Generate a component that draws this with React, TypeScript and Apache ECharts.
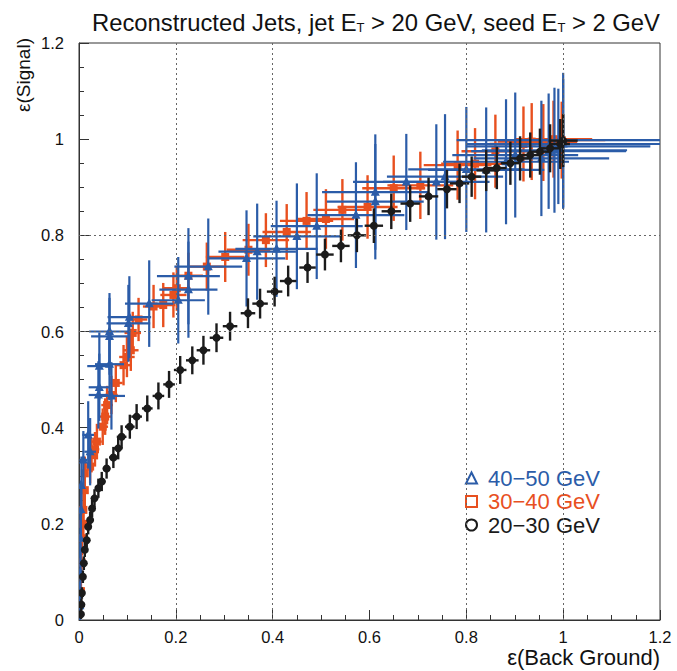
import React, { useEffect, useRef } from "react";
import * as echarts from "echarts";

// ---- Data: [x, y, xErr, yErr] ----
const JET_20_30: number[][] = [
  [0.004, 0.012, 0.002, 0.01], [0.005, 0.032, 0.002, 0.012], [0.006, 0.056, 0.003, 0.012],
  [0.008, 0.09, 0.003, 0.013], [0.010, 0.118, 0.004, 0.014], [0.012, 0.146, 0.004, 0.015],
  [0.016, 0.166, 0.005, 0.015], [0.019, 0.194, 0.005, 0.016], [0.023, 0.208, 0.006, 0.017],
  [0.027, 0.232, 0.006, 0.018], [0.032, 0.253, 0.007, 0.019], [0.040, 0.274, 0.007, 0.02],
  [0.047, 0.288, 0.008, 0.02], [0.057, 0.315, 0.008, 0.021], [0.071, 0.338, 0.009, 0.022],
  [0.081, 0.357, 0.009, 0.023], [0.088, 0.381, 0.010, 0.024], [0.105, 0.402, 0.010, 0.025],
  [0.119, 0.423, 0.011, 0.026], [0.141, 0.44, 0.011, 0.027], [0.164, 0.466, 0.012, 0.028],
  [0.186, 0.49, 0.012, 0.028], [0.209, 0.52, 0.013, 0.029], [0.234, 0.54, 0.013, 0.029],
  [0.257, 0.561, 0.014, 0.03], [0.284, 0.587, 0.014, 0.03], [0.312, 0.611, 0.015, 0.03],
  [0.349, 0.638, 0.015, 0.031], [0.374, 0.658, 0.016, 0.031], [0.404, 0.683, 0.016, 0.031],
  [0.432, 0.705, 0.017, 0.032], [0.472, 0.733, 0.017, 0.032], [0.508, 0.76, 0.018, 0.033],
  [0.541, 0.778, 0.018, 0.034], [0.574, 0.80, 0.019, 0.035], [0.609, 0.82, 0.019, 0.036],
  [0.645, 0.85, 0.02, 0.037], [0.684, 0.866, 0.02, 0.038], [0.722, 0.881, 0.02, 0.039],
  [0.76, 0.896, 0.02, 0.04], [0.786, 0.908, 0.02, 0.041], [0.811, 0.922, 0.02, 0.042],
  [0.841, 0.935, 0.02, 0.043], [0.863, 0.94, 0.02, 0.044], [0.891, 0.95, 0.02, 0.045],
  [0.911, 0.96, 0.02, 0.046], [0.932, 0.967, 0.02, 0.047], [0.952, 0.974, 0.02, 0.048],
  [0.973, 0.981, 0.02, 0.05], [0.994, 0.99, 0.02, 0.052], [1.0, 0.997, 0.03, 0.055],
];

const JET_30_40: number[][] = [
  [0.004, 0.06, 0.003, 0.03], [0.005, 0.12, 0.003, 0.035], [0.006, 0.17, 0.004, 0.035],
  [0.009, 0.2, 0.005, 0.035], [0.009, 0.229, 0.005, 0.035], [0.012, 0.27, 0.006, 0.035],
  [0.012, 0.305, 0.006, 0.035], [0.023, 0.319, 0.008, 0.035], [0.026, 0.343, 0.008, 0.036],
  [0.033, 0.355, 0.009, 0.036], [0.037, 0.371, 0.01, 0.037], [0.049, 0.402, 0.011, 0.038],
  [0.054, 0.423, 0.012, 0.038], [0.058, 0.447, 0.012, 0.04], [0.067, 0.468, 0.013, 0.04],
  [0.076, 0.493, 0.014, 0.04], [0.092, 0.53, 0.015, 0.042], [0.099, 0.547, 0.016, 0.042],
  [0.107, 0.561, 0.016, 0.043], [0.111, 0.597, 0.017, 0.044], [0.123, 0.625, 0.018, 0.045],
  [0.154, 0.652, 0.022, 0.045], [0.174, 0.655, 0.025, 0.046], [0.195, 0.676, 0.027, 0.047],
  [0.202, 0.69, 0.028, 0.047], [0.226, 0.716, 0.03, 0.048], [0.264, 0.735, 0.035, 0.05],
  [0.302, 0.755, 0.04, 0.052], [0.35, 0.77, 0.045, 0.054], [0.386, 0.79, 0.048, 0.056],
  [0.429, 0.807, 0.05, 0.058], [0.47, 0.83, 0.055, 0.06], [0.51, 0.834, 0.058, 0.062],
  [0.544, 0.853, 0.06, 0.064], [0.596, 0.859, 0.062, 0.066], [0.65, 0.898, 0.065, 0.068],
  [0.705, 0.904, 0.068, 0.07], [0.782, 0.946, 0.07, 0.072], [0.818, 0.949, 0.07, 0.074],
  [0.86, 0.975, 0.07, 0.076], [0.918, 0.99, 0.07, 0.078], [0.935, 0.995, 0.07, 0.08],
  [0.959, 0.993, 0.07, 0.08], [0.98, 1.0, 0.08, 0.08], [0.997, 0.998, 0.09, 0.08],
];

const JET_40_50: number[][] = [
  [0.002, 0.03, 0.002, 0.05], [0.003, 0.1, 0.002, 0.06], [0.003, 0.17, 0.003, 0.06],
  [0.004, 0.23, 0.003, 0.06], [0.005, 0.28, 0.004, 0.06], [0.009, 0.333, 0.008, 0.06],
  [0.019, 0.385, 0.012, 0.07], [0.023, 0.35, 0.012, 0.07], [0.04, 0.468, 0.02, 0.07],
  [0.042, 0.484, 0.022, 0.07], [0.042, 0.528, 0.025, 0.07], [0.063, 0.532, 0.03, 0.075],
  [0.063, 0.59, 0.038, 0.08], [0.063, 0.6, 0.042, 0.08], [0.067, 0.466, 0.028, 0.07],
  [0.102, 0.617, 0.045, 0.08], [0.104, 0.63, 0.045, 0.085], [0.145, 0.658, 0.05, 0.09],
  [0.205, 0.665, 0.055, 0.09], [0.226, 0.687, 0.06, 0.1], [0.226, 0.715, 0.065, 0.1],
  [0.267, 0.735, 0.07, 0.1], [0.346, 0.752, 0.08, 0.1], [0.368, 0.766, 0.08, 0.1],
  [0.408, 0.772, 0.085, 0.1], [0.45, 0.798, 0.09, 0.11], [0.491, 0.819, 0.095, 0.11],
  [0.572, 0.842, 0.1, 0.11], [0.612, 0.87, 0.1, 0.12], [0.612, 0.89, 0.11, 0.12],
  [0.676, 0.911, 0.11, 0.1], [0.738, 0.911, 0.11, 0.12], [0.756, 0.922, 0.12, 0.13],
  [0.8, 0.937, 0.12, 0.13], [0.841, 0.936, 0.12, 0.13], [0.882, 0.953, 0.13, 0.13],
  [0.901, 0.967, 0.13, 0.13], [0.955, 0.96, 0.14, 0.12], [0.97, 0.975, 0.16, 0.12],
  [0.982, 0.977, 0.15, 0.13], [0.99, 0.985, 0.19, 0.12], [1.0, 0.99, 0.2, 0.135],
  [1.0, 0.998, 0.22, 0.14],
];

const SERIES_NAMES = ["40−50 GeV", "30−40 GeV", "20−30 GeV"];
const TICK_LABELS = ["0", "0.2", "0.4", "0.6", "0.8", "1", "1.2"];
const X_GRID_LINES = [0.2, 0.4, 0.8, 1.0];
const Y_GRID_LINES = [0.6, 0.8];

const BLUE = "#2b5ca8";
const RED = "#e8501f";
const BLACK = "#1b1b1b";
const FONT = "Liberation Sans, Arial, sans-serif";

function makeRender(shape: string, color: string, lw: number, size: number) {
  return (_params: any, api: any) => {
    const x = api.value(0);
    const y = api.value(1);
    const ex = api.value(2);
    const ey = api.value(3);
    const c = api.coord([x, y]);
    const l = api.coord([x - ex, y]);
    const r = api.coord([x + ex, y]);
    const t = api.coord([x, y + ey]);
    const b = api.coord([x, y - ey]);
    let marker: any;
    if (shape === "circle") {
      marker = { type: "circle", shape: { cx: c[0], cy: c[1], r: size / 2 }, style: { fill: color } };
    } else if (shape === "rect") {
      marker = {
        type: "rect",
        shape: { x: c[0] - size / 2, y: c[1] - size / 2, width: size, height: size },
        style: { fill: color },
      };
    } else {
      const h = size;
      marker = {
        type: "polygon",
        shape: {
          points: [
            [c[0], c[1] - h * 0.6],
            [c[0] - h / 2, c[1] + h * 0.4],
            [c[0] + h / 2, c[1] + h * 0.4],
          ],
        },
        style: { fill: color },
      };
    }
    return {
      type: "group",
      children: [
        { type: "line", shape: { x1: l[0], y1: l[1], x2: r[0], y2: r[1] }, style: { stroke: color, lineWidth: lw } },
        { type: "line", shape: { x1: t[0], y1: t[1], x2: b[0], y2: b[1] }, style: { stroke: color, lineWidth: lw } },
        marker,
      ],
    };
  };
}

export default function App() {
  const ref = useRef<HTMLDivElement>(null);
  useEffect(() => {
    if (!ref.current) return;
    const chart = echarts.init(ref.current, undefined, { renderer: "svg" });
    const tickFmt = (v: number) => TICK_LABELS[Math.round(v / 0.2)] ?? "";
    const axisCommon = {
      type: "value" as const,
      min: 0,
      max: 1.2,
      interval: 0.2,
      axisLine: { show: true, lineStyle: { color: "#333", width: 1 } },
      axisTick: { show: true, inside: true, length: 10, lineStyle: { color: "#333" } },
      minorTick: { show: true, splitNumber: 4, length: 5, lineStyle: { color: "#333" } },
      splitLine: { show: false },
      axisLabel: { formatter: tickFmt, color: "#111", fontSize: 16.5, fontFamily: FONT },
    };
    chart.setOption({
      animation: false,
      backgroundColor: "#fff",
      title: {
        text: "Reconstructed Jets, jet E{sub|T} > 20 GeV, seed E{sub|T} > 2 GeV",
        left: 87,
        top: 5,
        textStyle: {
          fontFamily: FONT,
          fontSize: 23.8,
          fontWeight: "normal",
          color: "#111",
          rich: {
            sub: { fontSize: 13, fontFamily: FONT, color: "#111", verticalAlign: "bottom", padding: [9, 0, 0, 0] },
          },
        },
      },
      grid: { left: 79, top: 43, width: 581, height: 577, show: true, borderColor: "#333", borderWidth: 1 },
      xAxis: {
        ...axisCommon,
        axisLabel: { ...axisCommon.axisLabel, margin: 8 },
        name: "ε(Back Ground)",
        nameLocation: "end",
        nameGap: 0,
        nameTextStyle: {
          fontFamily: FONT,
          fontSize: 22,
          color: "#111",
          align: "right",
          verticalAlign: "top",
          padding: [26, 0, 0, 0],
        },
      },
      yAxis: {
        ...axisCommon,
        axisLabel: { ...axisCommon.axisLabel, margin: 15 },
      },
      legend: {
        orient: "vertical",
        left: 460,
        top: 462,
        itemWidth: 11,
        itemHeight: 11,
        itemGap: 1.5,
        textStyle: { fontFamily: FONT, fontSize: 22, padding: [0, 0, 0, 6] },
        data: [
          { name: SERIES_NAMES[0], icon: "triangle", itemStyle: { color: "transparent", borderColor: BLUE, borderWidth: 2 }, textStyle: { color: BLUE } },
          { name: SERIES_NAMES[1], icon: "rect", itemStyle: { color: "transparent", borderColor: RED, borderWidth: 2 }, textStyle: { color: RED } },
          { name: SERIES_NAMES[2], icon: "circle", itemStyle: { color: "transparent", borderColor: BLACK, borderWidth: 2 }, textStyle: { color: BLACK } },
        ],
      },
      graphic: [
        {
          type: "text",
          x: 23,
          y: 38,
          rotation: Math.PI / 2,
          style: { text: "ε(Signal)", align: "right", verticalAlign: "middle", fontFamily: FONT, fontSize: 19, fill: "#111" },
        },
      ],
      series: [
        {
          type: "line",
          data: [],
          silent: true,
          markLine: {
            silent: true,
            symbol: "none",
            label: { show: false },
            lineStyle: { type: [2, 3], color: "#666", width: 1 },
            data: [
              ...X_GRID_LINES.map((v) => ({ xAxis: v })),
              ...Y_GRID_LINES.map((v) => ({ yAxis: v })),
            ],
          },
        },
        {
          name: SERIES_NAMES[1],
          type: "custom",
          clip: true,
          itemStyle: { color: RED },
          renderItem: makeRender("rect", RED, 2.4, 8),
          data: JET_30_40,
          encode: { x: 0, y: 1 },
        },
        {
          name: SERIES_NAMES[0],
          type: "custom",
          clip: true,
          itemStyle: { color: BLUE },
          renderItem: makeRender("triangle", BLUE, 2.2, 9),
          data: JET_40_50,
          encode: { x: 0, y: 1 },
        },
        {
          name: SERIES_NAMES[2],
          type: "custom",
          clip: true,
          itemStyle: { color: BLACK },
          renderItem: makeRender("circle", BLACK, 2.4, 8),
          data: JET_20_30,
          encode: { x: 0, y: 1 },
        },
      ],
    });
    return () => chart.dispose();
  }, []);
  return <div ref={ref} style={{ width: 677, height: 671, position: "absolute", left: 0, top: 0 }} />;
}
